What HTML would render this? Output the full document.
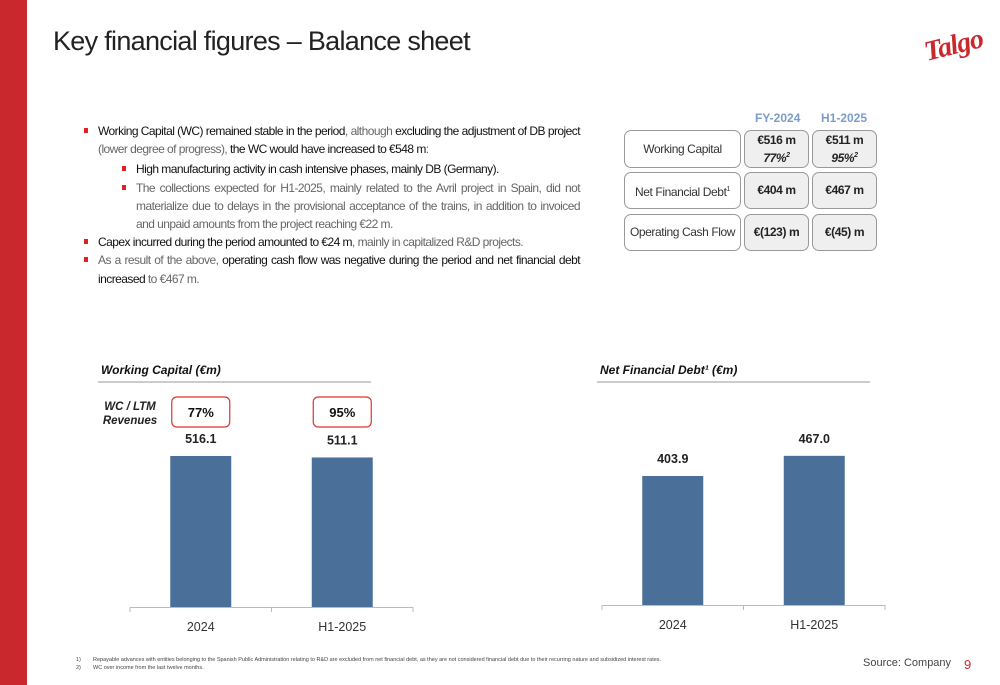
<!DOCTYPE html>
<html><head><meta charset="utf-8">
<style>
body{margin:0;width:1000px;height:685px;overflow:hidden;background:#fff;font-family:"Liberation Sans",sans-serif;position:relative}
.abs{position:absolute}
#title{left:53px;top:26px;font-size:27px;color:#222;letter-spacing:-0.7px;font-weight:300;white-space:nowrap}
#bullets{left:84px;top:122px;width:496px;font-size:12px;line-height:18.2px;color:#666;letter-spacing:-0.55px;text-align:justify}
#bullets b{font-weight:normal;color:#111}
.li{position:relative;padding-left:14px}
.li:before{content:"";position:absolute;left:0;top:6px;width:4px;height:5px;background:#d22}
.sub{margin-left:38px}
.cell{position:absolute;border:1px solid #999;border-radius:7px;box-sizing:border-box;display:flex;align-items:center;justify-content:center;text-align:center;font-size:12px;color:#333;letter-spacing:-0.4px;line-height:15px;white-space:nowrap}
.val{background:#efefef;font-weight:bold;color:#222}
.hd{position:absolute;top:111px;font-size:12px;font-weight:bold;color:#7b9cc8}
#foot{left:93px;top:656px;font-size:5.5px;color:#444;line-height:8px}
</style></head><body>
<div class="abs" style="left:0;top:0;width:27px;height:685px;background:#c9282d"></div>
<div id="title" class="abs">Key financial figures – Balance sheet</div>
<div class="abs" style="left:924px;top:30px;font-family:'Liberation Serif',serif;font-style:italic;font-weight:bold;font-size:28px;color:#c9282d;transform:rotate(-14deg);letter-spacing:-1px">Talgo</div>

<div id="bullets" class="abs">
<div class="li"><b>Working Capital (WC) remained stable in the period</b>, although <b>excluding the adjustment of DB project</b> (lower degree of progress), <b>the WC would have increased to €548 m</b>:</div>
<div class="li sub" style="margin-top:2px"><b>High manufacturing activity in cash intensive phases, mainly DB (Germany).</b></div>
<div class="li sub">The collections expected for H1-2025, mainly related to the Avril project in Spain, did not materialize due to delays in the provisional acceptance of the trains, in addition to invoiced and unpaid amounts from the project reaching €22 m.</div>
<div class="li"><b>Capex incurred during the period amounted to €24 m</b>, mainly in capitalized R&amp;D projects.</div>
<div class="li">As a result of the above, <b>operating cash flow was negative during the period and net financial debt increased</b> to €467 m.</div>
</div>

<div class="hd" style="left:755px">FY-2024</div>
<div class="hd" style="left:821px">H1-2025</div>
<div class="cell" style="left:624px;top:130px;width:117px;height:38px">Working Capital</div>
<div class="cell val" style="left:744px;top:130px;width:65px;height:38px"><div>€516 m<br><i>77%<sup style="font-size:7px">2</sup></i></div></div>
<div class="cell val" style="left:812px;top:130px;width:65px;height:38px"><div>€511 m<br><i>95%<sup style="font-size:7px">2</sup></i></div></div>
<div class="cell" style="left:624px;top:172px;width:117px;height:37px"><div>Net Financial Debt<sup style="font-size:7px">1</sup></div></div>
<div class="cell val" style="left:744px;top:172px;width:65px;height:37px">€404 m</div>
<div class="cell val" style="left:812px;top:172px;width:65px;height:37px">€467 m</div>
<div class="cell" style="left:624px;top:214px;width:117px;height:37px">Operating Cash Flow</div>
<div class="cell val" style="left:744px;top:214px;width:65px;height:37px">€(123) m</div>
<div class="cell val" style="left:812px;top:214px;width:65px;height:37px">€(45) m</div>

<svg id="charts" class="abs" style="left:0;top:0" width="1000" height="685"></svg>

<div id="foot" class="abs">
<div><span style="display:inline-block;margin-left:-17px;width:17px">1)</span>Repayable advances with entities belonging to the Spanish Public Administration relating to R&amp;D are excluded from net financial debt, as they are not considered financial debt due to their recurring nature and subsidized interest rates.</div>
<div><span style="display:inline-block;margin-left:-17px;width:17px">2)</span>WC over income from the last twelve months.</div>
</div>
<div class="abs" style="left:863px;top:657px;font-size:11px;color:#444">Source: Company</div>
<div class="abs" style="left:964px;top:657px;font-size:13px;color:#c9282d">9</div>

<script>
const wcCategories=["2024","H1-2025"];
const wcValues=[516.1,511.1];
const wcLabels=["516.1","511.1"];
const wcRatios=["77%","95%"];
const nfdCategories=["2024","H1-2025"];
const nfdValues=[403.9,467.0];
const nfdLabels=["403.9","467.0"];

const svg=document.getElementById('charts');
const NS='http://www.w3.org/2000/svg';
function mk(t,a,txt){const e=document.createElementNS(NS,t);for(const k in a)e.setAttribute(k,a[k]);if(txt!==undefined)e.textContent=txt;svg.appendChild(e);return e;}

function chart(cfg){
  const x0=cfg.x0,x1=cfg.x1,base=cfg.base;
  const band=(x1-x0)/cfg.cats.length;
  const xC=i=>x0+band*(i+0.5);
  const yS=v=>base-v*cfg.scale;
  let t=mk('text',{x:cfg.tx,y:cfg.ty,'font-size':12,'font-weight':'bold','font-style':'italic',fill:'#111'},cfg.title);
  
  
  let l=mk('line',{x1:cfg.tx-3,x2:cfg.tx+270,y1:cfg.ty+8,y2:cfg.ty+8,stroke:'#999','stroke-width':1});
  
  
  let ax=mk('line',{x1:x0,x2:x1,y1:base+0.5,y2:base+0.5,stroke:'#bbb'});
  
  
  for(let i=0;i<=cfg.cats.length;i++){
    let tk=mk('line',{x1:x0+band*i,x2:x0+band*i,y1:base,y2:base+5,stroke:'#bbb'});
    
    
  }
  cfg.vals.forEach((v,i)=>{
    const w=61,cx=xC(i);
    let r=mk('rect',{x:cx-w/2,y:yS(v),width:w,height:base-yS(v),fill:'#4a6f98'});
    
    
    let vl=mk('text',{x:cx,y:yS(v)-13,'text-anchor':'middle','font-size':12.5,'font-weight':'bold',fill:'#222'},cfg.labels[i]);
    
    
    let cl=mk('text',{x:cx,y:base+24,'text-anchor':'middle','font-size':12.5,fill:'#333'},cfg.cats[i]);
    
    
    if(cfg.ratios){
      let b=mk('rect',{x:cx-29,y:397,width:58,height:30,rx:5,fill:'#fff',stroke:'#d33','stroke-width':1.2});
      
      
      let bt=mk('text',{x:cx,y:417,'text-anchor':'middle','font-size':13,'font-weight':'bold',fill:'#111'},cfg.ratios[i]);
      
      
    }
  });
}
chart({id:'wc',title:'Working Capital (€m)',tx:101,ty:374,x0:130,x1:413,base:607,scale:0.2926,cats:wcCategories,vals:wcValues,labels:wcLabels,ratios:wcRatios});
chart({id:'nfd',title:'Net Financial Debt¹ (€m)',tx:600,ty:374,x0:602,x1:885,base:605,scale:0.3194,cats:nfdCategories,vals:nfdValues,labels:nfdLabels});
let a=mk('text',{x:130,y:410,'text-anchor':'middle','font-size':11.5,'font-weight':'bold','font-style':'italic',fill:'#222'},'WC / LTM');


let b=mk('text',{x:130,y:424,'text-anchor':'middle','font-size':11.5,'font-weight':'bold','font-style':'italic',fill:'#222'},'Revenues');


</script>
</body></html>
